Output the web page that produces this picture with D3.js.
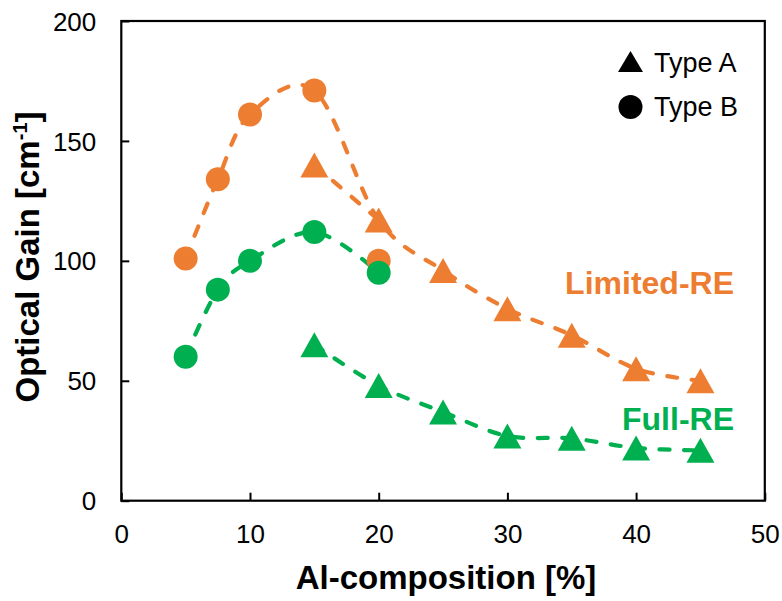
<!DOCTYPE html>
<html>
<head>
<meta charset="utf-8">
<script src="https://cdn.jsdelivr.net/npm/d3@7"></script>
<style>
  body { margin: 0; background: #fff; }
  svg { display: block; font-family: "Liberation Sans", Arial, sans-serif; }
</style>
</head>
<body>
<svg id="chart" width="782" height="601"></svg>
<script>
// Al composition (%) for each sample group
const xTypeB = [5, 7.5, 10, 15, 20];
const xTypeA = [15, 20, 25, 30, 35, 40, 45];

// Optical gain (cm^-1)
const limitedTypeB = [101, 134, 161, 171, 100];
const limitedTypeA = [140, 117, 96, 80, 69, 55, 50];
const fullTypeB = [60, 88, 100, 112, 95];
const fullTypeA = [65, 48, 37, 27, 26, 22, 21];

// Dashed guide curves
const limitedGuideX = [5, 7.5, 10, 15, 20, 25, 30, 35, 40, 45];
const limitedGuideY = [101, 134, 161, 171, 117, 96, 80, 69, 55, 50];
const limitedGuide2X = [15, 20];
const limitedGuide2Y = [140, 117];
const fullGuideX = [5, 7.5, 10, 15, 20];
const fullGuideY = [60, 88, 100, 112, 95];
const fullGuide2X = [15, 20, 25, 30, 35, 40, 45];
const fullGuide2Y = [65, 48, 37, 27, 26, 22, 21];

const xTicks = [0, 10, 20, 30, 40, 50];
const yTicks = [0, 50, 100, 150, 200];

const ORANGE = "#ED7D31";
const GREEN = "#00B050";

const svg = d3.select("#chart");
const plotLeft = 121.3, plotRight = 764.8, plotTop = 21, plotBottom = 500.7;

const x = d3.scaleLinear().domain([0, 50]).range([plotLeft, plotRight]);
const y = d3.scaleLinear().domain([0, 200]).range([plotBottom, plotTop]);

// Frame
svg.append("rect")
  .attr("x", plotLeft).attr("y", plotTop)
  .attr("width", plotRight - plotLeft).attr("height", plotBottom - plotTop)
  .attr("fill", "none").attr("stroke", "#000").attr("stroke-width", 2.2);

// Axes with inward ticks
const xAxis = svg.append("g").attr("transform", `translate(0,${plotBottom})`)
  .call(d3.axisBottom(x).tickValues(xTicks).tickSizeInner(-8).tickSizeOuter(0).tickPadding(0));
xAxis.select(".domain").remove();
xAxis.selectAll("line").attr("stroke", "#000").attr("stroke-width", 2);
xAxis.selectAll("text").attr("y", 42).attr("dy", null)
  .attr("font-size", 26).attr("fill", "#000").attr("font-family", "Liberation Sans, Arial, sans-serif");

const yAxis = svg.append("g").attr("transform", `translate(${plotLeft},0)`)
  .call(d3.axisLeft(y).tickValues(yTicks).tickSizeInner(-8).tickSizeOuter(0).tickPadding(0));
yAxis.select(".domain").remove();
yAxis.selectAll("line").attr("stroke", "#000").attr("stroke-width", 2);
yAxis.selectAll("text").attr("x", -25).attr("dy", "0.35em")
  .attr("font-size", 26).attr("fill", "#000").attr("font-family", "Liberation Sans, Arial, sans-serif");

// Axis titles
svg.append("text")
  .attr("x", 446).attr("y", 589)
  .attr("text-anchor", "middle").attr("font-weight", "bold").attr("font-size", 33)
  .text("Al-composition [%]");

const yTitle = svg.append("text")
  .attr("transform", "translate(39,257) rotate(-90)")
  .attr("text-anchor", "middle").attr("font-weight", "bold").attr("font-size", 33);
yTitle.append("tspan").text("Optical Gain [cm");
yTitle.append("tspan").attr("font-size", 20).attr("dy", -12).text("-1");
yTitle.append("tspan").attr("dy", 12).text("]");

// Guide curves (uniform Catmull-Rom smoothing)
const line = d3.line()
  .x(d => x(d[0])).y(d => y(d[1]))
  .curve(d3.curveCatmullRom.alpha(0));

function guide(xs, ys, color) {
  svg.append("path")
    .attr("d", line(d3.zip(xs, ys)))
    .attr("fill", "none").attr("stroke", color)
    .attr("stroke-width", 4.2).attr("stroke-dasharray", "10,14.5")
    .attr("stroke-linecap", "round");
}
guide(limitedGuideX, limitedGuideY, ORANGE);
guide(limitedGuide2X, limitedGuide2Y, ORANGE);
guide(fullGuideX, fullGuideY, GREEN);
guide(fullGuide2X, fullGuide2Y, GREEN);

// Markers
const triW = 28, triH = 25, circR = 12;
function triPath(cx, cy) {
  return `M${cx},${cy - triH / 2}L${cx + triW / 2},${cy + triH / 2}L${cx - triW / 2},${cy + triH / 2}Z`;
}
function circles(xs, ys, color) {
  svg.append("g").selectAll("circle").data(d3.zip(xs, ys)).join("circle")
    .attr("cx", d => x(d[0])).attr("cy", d => y(d[1])).attr("r", circR)
    .attr("fill", color);
}
function triangles(xs, ys, color) {
  svg.append("g").selectAll("path").data(d3.zip(xs, ys)).join("path")
    .attr("d", d => triPath(x(d[0]), y(d[1])))
    .attr("fill", color);
}
circles(xTypeB, limitedTypeB, ORANGE);
triangles(xTypeA, limitedTypeA, ORANGE);
circles(xTypeB, fullTypeB, GREEN);
triangles(xTypeA, fullTypeA, GREEN);

// Series labels
svg.append("text").attr("x", 734).attr("y", 294).attr("text-anchor", "end")
  .attr("font-weight", "bold").attr("font-size", 32).attr("fill", ORANGE).text("Limited-RE");
svg.append("text").attr("x", 734).attr("y", 430).attr("text-anchor", "end")
  .attr("font-weight", "bold").attr("font-size", 32).attr("fill", GREEN).text("Full-RE");

// Legend
const legend = svg.append("g");
legend.append("path").attr("d", `M630.5,51L643,72L618,72Z`).attr("fill", "#000");
legend.append("circle").attr("cx", 630.5).attr("cy", 107).attr("r", 12).attr("fill", "#000");
legend.append("text").attr("x", 654).attr("y", 72).attr("font-size", 27).text("Type A");
legend.append("text").attr("x", 654).attr("y", 116).attr("font-size", 27).text("Type B");
</script>
</body>
</html>
